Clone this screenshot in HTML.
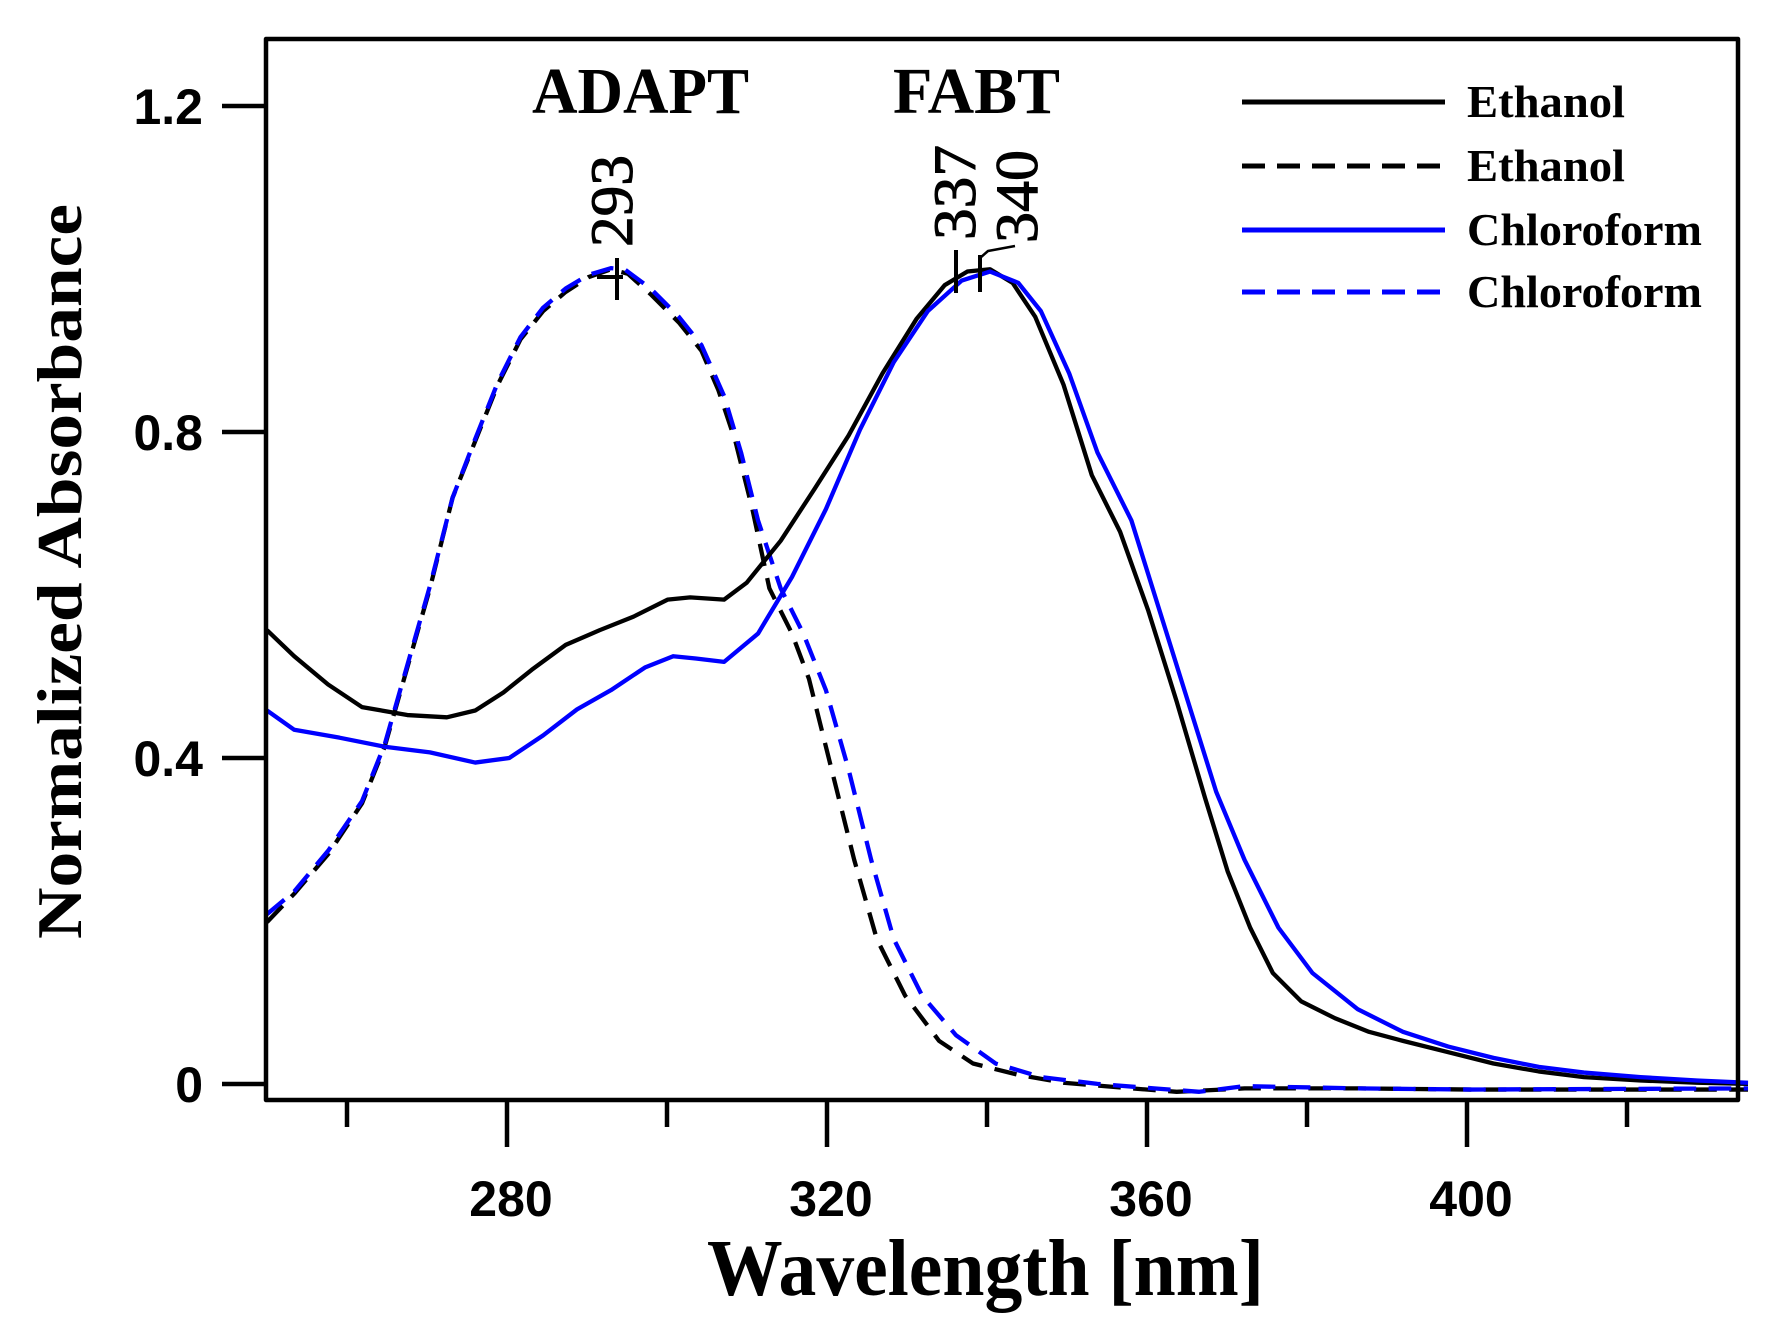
<!DOCTYPE html>
<html><head><meta charset="utf-8"><style>html,body{margin:0;padding:0;background:#fff}svg{display:block}</style></head>
<body>
<svg width="1765" height="1335" viewBox="0 0 1765 1335" xmlns="http://www.w3.org/2000/svg">
<rect width="1765" height="1335" fill="#fff"/>
<g fill="none" stroke-linejoin="round" stroke-linecap="butt">
<g transform="scale(1.1314)">
<polyline stroke="#000" stroke-width="3.8" stroke-dasharray="20,11" points="236,815 260,790 290,755 320,710 340,660 360,590 380,520 400,440 420,390 440,340 460,300 480,275 500,258 520,245 540,238 555,242 575,260 600,285 620,310 635,345 650,390 665,450 680,520 700,560 715,600 735,680 755,760 775,830 800,880 830,920 860,940 900,950 940,957 1000,962 1040,965 1100,962 1200,962 1300,963 1400,963 1545,963"/>
<polyline stroke="#0000ff" stroke-width="3.8" stroke-dasharray="20,11" points="236,808 260,788 290,752 320,708 340,658 360,588 380,518 400,440 420,388 440,338 460,298 480,272 500,255 520,243 540,237 552,238 575,255 600,280 620,305 640,350 655,400 670,460 690,520 710,560 730,610 750,680 770,760 790,830 815,880 845,915 880,940 920,952 970,958 1020,962 1060,965 1100,960 1200,962 1300,963 1545,962"/>
<polyline stroke="#000" stroke-width="3.8" points="236,557 260,580 290,605 320,625 360,632 395,634 420,628 445,612 470,592 500,570 530,557 560,545 590,530 610,528 640,530 660,515 690,478 720,432 750,385 780,330 810,282 835,252 855,240 875,238 895,250 915,280 940,340 965,420 990,470 1015,540 1040,620 1065,705 1085,770 1105,820 1125,860 1150,885 1180,900 1210,912 1240,920 1280,930 1320,940 1360,947 1400,952 1450,955 1500,957 1545,958"/>
<polyline stroke="#0000ff" stroke-width="3.8" points="236,628 260,645 300,652 340,660 380,665 420,674 450,670 480,650 510,627 540,610 570,590 595,580 615,582 640,585 670,560 700,510 730,450 760,380 790,320 820,275 850,248 875,240 900,250 920,275 945,330 970,400 1000,460 1025,540 1050,620 1075,700 1100,760 1130,820 1160,860 1200,892 1240,912 1280,925 1320,935 1360,943 1400,948 1450,952 1500,955 1545,957"/>
</g>
<rect x="266" y="39" width="1472" height="1061" stroke="#000" stroke-width="4.5"/>
<g stroke="#000" stroke-width="4.5">
<line x1="222" y1="1084" x2="266" y2="1084"/><line x1="222" y1="758" x2="266" y2="758"/>
<line x1="222" y1="432" x2="266" y2="432"/><line x1="222" y1="106" x2="266" y2="106"/>
<line x1="507" y1="1100" x2="507" y2="1147"/><line x1="827" y1="1100" x2="827" y2="1147"/>
<line x1="1147" y1="1100" x2="1147" y2="1147"/><line x1="1467" y1="1100" x2="1467" y2="1147"/>
<line x1="347" y1="1100" x2="347" y2="1127"/><line x1="667" y1="1100" x2="667" y2="1127"/>
<line x1="987" y1="1100" x2="987" y2="1127"/><line x1="1307" y1="1100" x2="1307" y2="1127"/>
<line x1="1627" y1="1100" x2="1627" y2="1127"/>
<line x1="617" y1="258" x2="617" y2="300" stroke-width="4"/><line x1="597" y1="277" x2="623" y2="277" stroke-width="4"/>
<line x1="956" y1="250" x2="956" y2="293" stroke-width="4"/><line x1="980" y1="255" x2="980" y2="292" stroke-width="4"/>
<polyline points="980,258 988,251 1015,246" stroke-width="2.5"/>
<line x1="1242" y1="102" x2="1445" y2="102" stroke-width="5"/>
<line x1="1242" y1="166" x2="1445" y2="166" stroke-dasharray="23,12" stroke-width="5"/>
<line x1="1242" y1="230" x2="1445" y2="230" stroke="#0000ff" stroke-width="5"/>
<line x1="1242" y1="292" x2="1445" y2="292" stroke="#0000ff" stroke-dasharray="23,12" stroke-width="5"/>
</g>
</g>
<g font-family="'Liberation Sans',sans-serif" font-weight="bold" font-size="50" fill="#000">
<text x="203" y="1102" text-anchor="end">0</text>
<text x="203" y="776" text-anchor="end">0.4</text>
<text x="203" y="450" text-anchor="end">0.8</text>
<text x="203" y="124" text-anchor="end">1.2</text>
<text x="511" y="1216" text-anchor="middle">280</text>
<text x="831" y="1216" text-anchor="middle">320</text>
<text x="1151" y="1216" text-anchor="middle">360</text>
<text x="1471" y="1216" text-anchor="middle">400</text>
</g>
<g font-family="'Liberation Serif',serif" font-weight="bold" fill="#000">
<text x="532" y="113" font-size="66" textLength="217" lengthAdjust="spacingAndGlyphs">ADAPT</text>
<text x="893" y="113" font-size="66" textLength="167" lengthAdjust="spacingAndGlyphs">FABT</text>
<text x="1467" y="117" font-size="46" textLength="158" lengthAdjust="spacingAndGlyphs">Ethanol</text>
<text x="1467" y="181" font-size="46" textLength="158" lengthAdjust="spacingAndGlyphs">Ethanol</text>
<text x="1467" y="245" font-size="46" textLength="235" lengthAdjust="spacingAndGlyphs">Chloroform</text>
<text x="1467" y="307" font-size="46" textLength="235" lengthAdjust="spacingAndGlyphs">Chloroform</text>
<text x="707" y="1295" font-size="80" textLength="557" lengthAdjust="spacingAndGlyphs">Wavelength [nm]</text>
<text transform="translate(81,939) rotate(-90)" font-size="64" textLength="735" lengthAdjust="spacingAndGlyphs">Normalized Absorbance</text>
</g>
<g font-family="'Liberation Serif',serif" font-size="60" fill="#000" stroke="#000" stroke-width="1">
<text transform="translate(632,247) rotate(-90)" textLength="92" lengthAdjust="spacingAndGlyphs">293</text>
<text transform="translate(975,240) rotate(-90)" textLength="95" lengthAdjust="spacingAndGlyphs">337</text>
<text transform="translate(1037,243) rotate(-90)" textLength="93" lengthAdjust="spacingAndGlyphs">340</text>
</g>
</svg>
</body></html>
